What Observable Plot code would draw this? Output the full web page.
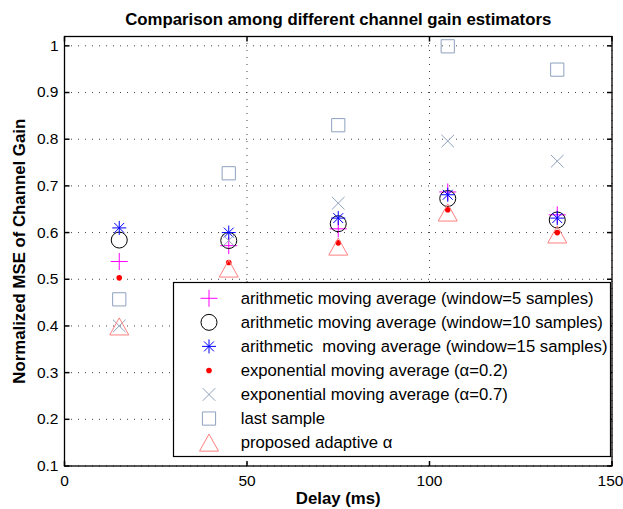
<!DOCTYPE html>
<html>
<head>
<meta charset="utf-8">
<script src="https://cdn.jsdelivr.net/npm/d3@7"></script>
<script src="https://cdn.jsdelivr.net/npm/@observablehq/plot@0.6"></script>
<style>
  html, body { margin: 0; padding: 0; background: #fff; }
  #chart svg { display: block; }
</style>
</head>
<body>
<div id="chart"></div>
<script>
// Delays at which each estimator was evaluated (ms)
const delays = [15, 45, 75, 105, 135];

// Normalized MSE of channel gain per estimator
const ama5     = [0.538, 0.572, 0.608, 0.687, 0.638];
const ama10    = [0.584, 0.583, 0.619, 0.673, 0.627];
const ama15    = [0.610, 0.600, 0.631, 0.681, 0.631];
const ema02    = [0.503, 0.536, 0.578, 0.649, 0.600];
const ema07    = [0.400, 0.583, 0.663, 0.796, 0.753];
const lastSamp = [0.457, 0.727, 0.830, 0.999, 0.949];
const adaptive = [0.399, 0.523, 0.570, 0.643, 0.596];

const seriesNames = [
  "arithmetic moving average (window=5 samples)",
  "arithmetic moving average (window=10 samples)",
  "arithmetic  moving average (window=15 samples)",
  "exponential moving average (\u03b1=0.2)",
  "exponential moving average (\u03b1=0.7)",
  "last sample",
  "proposed adaptive \u03b1"
];
const seriesValues = [ama5, ama10, ama15, ema02, ema07, lastSamp, adaptive];

const xTicks = [0, 50, 100, 150];
const yTicks = [0.1, 0.2, 0.3, 0.4, 0.5, 0.6, 0.7, 0.8, 0.9, 1];

// Marker shapes: size is interpreted so that sqrt(size/PI) is the half-extent in px
const half = size => Math.sqrt(size / Math.PI);
const plusSym = {draw(c, s) { const r = half(s); c.moveTo(-r, 0); c.lineTo(r, 0); c.moveTo(0, -r); c.lineTo(0, r); }};
const circleSym = {draw(c, s) { const r = half(s); c.moveTo(r, 0); c.arc(0, 0, r, 0, 2 * Math.PI); }};
const asteriskSym = {draw(c, s) {
  const r = half(s), d = r * Math.SQRT1_2;
  c.moveTo(-r, 0); c.lineTo(r, 0); c.moveTo(0, -r); c.lineTo(0, r);
  c.moveTo(-d, -d); c.lineTo(d, d); c.moveTo(-d, d); c.lineTo(d, -d);
}};
const dotSym = {draw(c, s) { const r = half(s); c.moveTo(r, 0); c.arc(0, 0, r, 0, 2 * Math.PI); }};
const timesSym = {draw(c, s) { const r = half(s); c.moveTo(-r, -r); c.lineTo(r, r); c.moveTo(-r, r); c.lineTo(r, -r); }};
const squareSym = {draw(c, s) { const r = half(s); c.moveTo(-r, -r); c.lineTo(r, -r); c.lineTo(r, r); c.lineTo(-r, r); c.closePath(); }};
const triangleSym = {draw(c, s) { const r = half(s), h = r * 0.9; c.moveTo(0, -h); c.lineTo(r, h); c.lineTo(-r, h); c.closePath(); }};
// Inward tick marks for the axes box
const tickRight = {draw(c, s) { c.moveTo(0, 0); c.lineTo(half(s), 0); }};
const tickLeft  = {draw(c, s) { c.moveTo(0, 0); c.lineTo(-half(s), 0); }};
const tickUp    = {draw(c, s) { c.moveTo(0, 0); c.lineTo(0, -half(s)); }};
const tickDown  = {draw(c, s) { c.moveTo(0, 0); c.lineTo(0, half(s)); }};

const styles = [
  {symbol: plusSym,     r: 8.5, stroke: "#ff00ff", fill: "none"},
  {symbol: circleSym,   r: 8,   stroke: "#000000", fill: "none"},
  {symbol: asteriskSym, r: 7,   stroke: "#0000ff", fill: "none"},
  {symbol: dotSym,      r: 2.8, stroke: "none",    fill: "#ff0000"},
  {symbol: timesSym,    r: 6.3, stroke: "#8ea1bd", fill: "none"},
  {symbol: squareSym,   r: 6.6, stroke: "#8ea1bd", fill: "none"},
  {symbol: triangleSym, r: 9.5, stroke: "#ff8080", fill: "none"}
];

const rows = seriesNames.map((name, k) => delays.map((d, i) => ({series: k, delay: d, mse: seriesValues[k][i]})));

const font = "'Liberation Sans', Arial, Helvetica, sans-serif";
const fmt = d3.format("~g");
const lastX = xTicks[xTicks.length - 1];

const chart = Plot.plot({
  width: 623,
  height: 509,
  marginLeft: 64,
  marginRight: 11.5,
  marginTop: 36,
  marginBottom: 43.5,
  style: {fontFamily: font, fontSize: "16px", color: "#000", background: "#fff"},
  x: {domain: [0, 150]},
  y: {domain: [0.1, 1.02]},
  marks: [
    Plot.gridY(yTicks, {stroke: "#444", strokeOpacity: 1, strokeDasharray: "1,6"}),
    Plot.gridX(xTicks, {stroke: "#444", strokeOpacity: 1, strokeDasharray: "1,6"}),
    Plot.axisY(yTicks, {tickSize: 0, tickPadding: 6, label: null, tickFormat: fmt, fontSize: 15.5}),
    Plot.axisX(xTicks.slice(0, -1), {tickSize: 0, tickPadding: 9, label: null, tickFormat: fmt, fontSize: 15.5}),
    // the rightmost label is nudged inward so it stays on the page
    Plot.axisX([lastX], {tickSize: 0, tickPadding: 9, label: null, tickFormat: fmt, fontSize: 15.5, dx: -1.5}),
    Plot.dot(yTicks, {y: d => d, frameAnchor: "left", symbol: tickRight, r: 5, stroke: "#000"}),
    Plot.dot(yTicks, {y: d => d, frameAnchor: "right", symbol: tickLeft, r: 5, stroke: "#000"}),
    Plot.dot(xTicks, {x: d => d, frameAnchor: "bottom", symbol: tickUp, r: 5, stroke: "#000"}),
    Plot.dot(xTicks, {x: d => d, frameAnchor: "top", symbol: tickDown, r: 5, stroke: "#000"}),
    ...rows.map((data, k) => Plot.dot(data, {
      x: "delay", y: "mse",
      symbol: styles[k].symbol, r: styles[k].r,
      stroke: styles[k].stroke, fill: styles[k].fill, strokeWidth: 1
    })),
    Plot.frame({stroke: "#000", strokeWidth: 1.3}),
    Plot.text(["Comparison among different channel gain estimators"], {
      frameAnchor: "top", lineAnchor: "bottom", dy: -12, fontWeight: "bold", fontSize: 16.8
    }),
    Plot.text(["Normalized MSE of Channel Gain"], {
      frameAnchor: "left", textAnchor: "middle", rotate: -90, dx: -44.5, fontWeight: "bold", fontSize: 16.8
    }),
    Plot.text(["Delay (ms)"], {
      frameAnchor: "bottom", lineAnchor: "middle", dy: 32.5, fontWeight: "bold", fontSize: 16.8
    })
  ]
});

// Legend box in the lower right of the axes
const svg = d3.select(chart);
const legend = svg.append("g")
  .attr("font-family", font)
  .attr("font-size", 16.7)
  .attr("text-anchor", "start");
const box = {x: 173.5, y: 282.5, w: 437, h: 174};
legend.append("rect")
  .attr("x", box.x).attr("y", box.y).attr("width", box.w).attr("height", box.h)
  .attr("fill", "#fff").attr("stroke", "#000").attr("stroke-width", 1.2);
seriesNames.forEach((name, k) => {
  const cy = box.y + 15.8 + k * 24.05;
  const st = styles[k];
  legend.append("path")
    .attr("transform", `translate(209,${cy})`)
    .attr("d", d3.symbol(st.symbol, st.r * st.r * Math.PI)())
    .attr("fill", st.fill).attr("stroke", st.stroke).attr("stroke-width", 1);
  legend.append("text")
    .attr("x", 240.7).attr("y", cy).attr("dy", "0.35em")
    .attr("fill", "#000")
    .attr("text-anchor", "start")
    .style("white-space", "pre")
    .text(name);
});

document.getElementById("chart").appendChild(chart);
</script>
</body>
</html>
